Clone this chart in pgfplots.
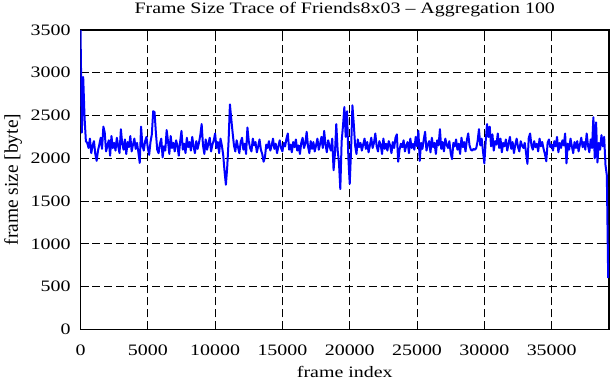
\documentclass[border=0pt]{standalone}
\usepackage{fontspec}
\setmainfont{Liberation Serif}[FakeStretch=1.25]
\newfontfamily\ylabfont{Liberation Serif}
\usepackage{pgfplots}
\usepackage{pgfplotstable}
\pgfplotsset{compat=1.18}
\pgfplotstableread{
y
3500
2300
2950
2480
2200
2180
2120
2230
2060
2150
2200
2050
1970
2090
2160
2240
2110
2370
2300
2080
2150
2210
2030
2260
2120
2180
2090
2240
2140
2060
2340
2170
2100
2220
2050
2190
2130
2260
2080
2160
2230
2110
2180
2070
1945
2370
2150
2090
2200
2250
2120
2040
2190
2280
2550
2540
2300
2100
2060
2170
2230
2010
2140
2090
2330
2200
2050
2260
2120
2180
2080
2210
2150
2030
2190
2320
2100
2170
2060
2240
2130
2190
2090
2250
2140
2060
2200
2110
2180
2270
2400
2150
2050
2220
2100
2170
2240
2080
2160
2210
2290
2120
2190
2060
2230
2150
2040
1850
1690
1900
2200
2630
2460
2300
2150
2080
2210
2130
2060
2190
2240
2100
2170
2050
2360
2200
2120
2080
2230
2150
2190
2070
2140
2220
2100
2050
1960
2010
2160
2120
2200
2090
2150
2230
2110
2170
2060
2140
2210
2120
2080
2180
2140
2230
2290
2100
2160
2070
2190
2130
2220
2090
2150
2050
2180
2240
2120
2170
2310
2140
2060
2200
2110
2190
2080
2150
2230
2100
2170
2250
2120
2320
2160
2070
2210
2140
2090
2230
1860
2050
2400
2100
1950
1640
2200
2380
2600
2250
2550
2000
1700
2100
2620
2400
2150
2050
2220
2130
2180
2090
2160
2230
2110
2190
2070
2150
2240
2120
2180
2290
2140
2080
2200
2160
2050
2230
2110
2170
2090
2200
2150
2060
2190
2120
2240
2280
1960
2100
2170
2130
2210
2080
2150
2190
2060
2230
2120
2170
2100
2250
2140
2320
1970
2180
2110
2220
2310
2090
2160
2200
2070
2240
2130
2180
2050
2210
2150
2340
2110
2190
2080
2230
2160
2120
2200
2060
1990
2180
2140
2220
2100
2170
2050
2240
2130
2190
2080
2210
2290
2150
2100
2090
2110
2100
2120
2200
2340
2150
2230
2080
1940
2200
2400
2250
2370
2140
2280
2090
2200
2160
2290
2120
2230
2070
2180
2140
2220
2090
2170
2250
2110
2190
2060
2160
2230
2130
2080
2200
2150
2120
2180
2060
1935
2240
2290
2150
2100
2200
2130
2170
2080
2230
2140
2190
2110
2050
1965
2180
2220
2130
2160
2090
2200
2140
2250
2070
2180
2120
2210
2150
2290
1940
2170
2100
2230
2140
2060
2190
2120
2200
2080
2160
2240
2130
2190
2100
2290
2150
2070
2220
2120
2480
2000
2420
1950
2180
2100
2270
2140
2250
1920
1800
600
}\trace
\begin{document}
\fontsize{16}{19}\selectfont
\begin{tikzpicture}
\begin{axis}[
  scale only axis,
  width=528.5bp, height=299.3bp,
  xmin=0, xmax=39260, ymin=0, ymax=3500,
  xtick={0,5000,...,35000},
  ytick={0,500,...,3500},
  scaled x ticks=false,
  /pgf/number format/1000 sep={},
  /pgf/number format/assume math mode=true,
  grid=major,
  major grid style={black, line width=0.8bp, dash pattern=on 8bp off 4bp},
  axis line style={black, line width=1.6bp},
  tick align=inside,
  tick style={black, line width=1bp},
  major tick length=8.5bp,
  every tick label/.style={font=\fontsize{16}{19}\selectfont},
  xticklabel style={anchor=base, inner sep=0pt, yshift=-25.7bp},
  yticklabel style={anchor=east, inner sep=0pt, xshift=-9.8bp},
  title={Frame Size Trace of Friends8x03 -- Aggregation 100},
  every axis title/.style={at={(axis description cs:0.5,1.0558)}, anchor=base, inner sep=0pt, font=\fontsize{16}{19}\selectfont},
  xlabel={frame index},
  xlabel style={at={(axis description cs:0.5,-0.1594)}, anchor=base, inner sep=0pt, font=\fontsize{16}{19}\selectfont},
  ylabel={frame size [byte]},
  ylabel style={at={(axis description cs:-0.1183,0.5)}, anchor=base, inner sep=0pt, font=\ylabfont\fontsize{19.5}{23}\selectfont},
]
\addplot[blue, line width=2bp, line join=round] table[x expr=\coordindex*100, y=y] {\trace};
\end{axis}
\pgfresetboundingbox
\useasboundingbox (-80.5bp,-50.7bp) rectangle (530.5bp,329.3bp);
\end{tikzpicture}
\end{document}
